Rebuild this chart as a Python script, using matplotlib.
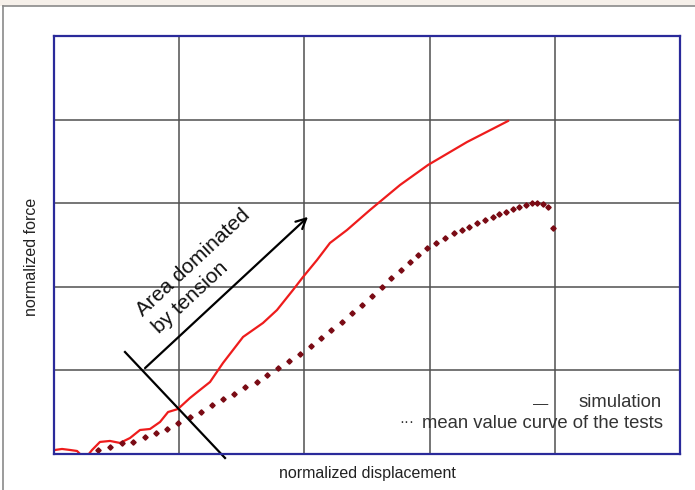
import matplotlib
matplotlib.use('Agg')
import matplotlib.pyplot as plt
from matplotlib.lines import Line2D
from matplotlib.patches import Rectangle

plt.rcParams['font.family'] = ['Liberation Sans', 'DejaVu Sans']

# simulation curve (normalized units, grid of 5 x 5)
sim_x = [0.008, 0.064, 0.128, 0.184, 0.224, 0.272, 0.304, 0.367, 0.447, 0.527,
         0.607, 0.687, 0.767, 0.847, 0.911, 0.990, 1.086, 1.166, 1.246, 1.350,
         1.510, 1.669, 1.781, 1.909, 1.989, 2.101, 2.204, 2.340, 2.524, 2.764,
         2.987, 3.299, 3.626]
sim_y = [0.048, 0.060, 0.048, 0.036, -0.024, -0.012, 0.048, 0.144, 0.156, 0.132,
         0.191, 0.287, 0.299, 0.383, 0.502, 0.538, 0.670, 0.766, 0.861, 1.089,
         1.400, 1.567, 1.722, 1.962, 2.117, 2.321, 2.524, 2.679, 2.919, 3.218,
         3.457, 3.732, 3.983]

# mean value curve of the tests
test_x = [0.351, 0.447, 0.543, 0.631, 0.727, 0.815, 0.903, 0.990, 1.086, 1.174,
          1.262, 1.350, 1.438, 1.526, 1.621, 1.701, 1.789, 1.877, 1.965, 2.053,
          2.133, 2.212, 2.300, 2.380, 2.460, 2.540, 2.620, 2.692, 2.772, 2.843,
          2.907, 2.979, 3.051, 3.123, 3.195, 3.259, 3.315, 3.379, 3.442, 3.506,
          3.554, 3.610, 3.666, 3.714, 3.770, 3.818, 3.858, 3.906, 3.946, 3.986]
test_y = [0.048, 0.084, 0.132, 0.144, 0.203, 0.251, 0.299, 0.371, 0.443, 0.502,
          0.586, 0.658, 0.718, 0.801, 0.861, 0.945, 1.029, 1.112, 1.196, 1.292,
          1.388, 1.483, 1.579, 1.687, 1.782, 1.890, 1.998, 2.105, 2.201, 2.297,
          2.380, 2.464, 2.524, 2.584, 2.644, 2.679, 2.715, 2.763, 2.799, 2.835,
          2.871, 2.895, 2.931, 2.955, 2.978, 3.002, 3.002, 2.990, 2.955, 2.703]

grid_ticks = [0, 1, 2, 3, 4, 5]

fig = plt.figure(figsize=(6.95, 4.9), dpi=100)
fig.patch.set_facecolor('white')

# slide frame: beige strip on top and thin grey border lines
fig.patches.append(Rectangle((0, 0.988), 1, 0.012, transform=fig.transFigure,
                             facecolor='#f6f0ea', edgecolor='none', zorder=0))
fig.lines.append(Line2D([0.005, 1.0], [0.988, 0.988], transform=fig.transFigure,
                        color='#8a8a8a', lw=1.2))
fig.lines.append(Line2D([0.005, 0.005], [0.0, 0.988], transform=fig.transFigure,
                        color='#8a8a8a', lw=1.2))

ax = fig.add_axes([0.0777, 0.0735, 0.9007, 0.853])
ax.set_xlim(0, 5)
ax.set_ylim(0, 5)
ax.set_xticks(grid_ticks)
ax.set_yticks(grid_ticks)
ax.tick_params(length=0, labelbottom=False, labelleft=False)
ax.grid(True, color='#505050', lw=1.1)
for s in ax.spines.values():
    s.set_color('#2a2a9a')
    s.set_linewidth(1.6)
    s.set_zorder(5)

ax.plot(sim_x, sim_y, color='#ee1c1c', lw=1.6, zorder=3)
ax.plot(test_x, test_y, ls='none', marker='D', ms=2.7, color='#7a0a14', zorder=3)

# tension annotation
ax.annotate('', xy=(2.045, 2.859), xytext=(0.711, 1.005),
            arrowprops=dict(arrowstyle='->', color='black', lw=1.6,
                            mutation_scale=18))
ax.plot([0.567, 1.366], [1.220, -0.048], color='black', lw=1.6, clip_on=False, zorder=4)
ax.text(0.86, 1.40, 'Area dominated\nby tension', rotation=43, ha='left', va='bottom',
        rotation_mode='anchor', multialignment='left', fontsize=15,
        color='#111111', linespacing=1.25)

# legend text
ax.text(0.778, 0.119, '\u2014', transform=ax.transAxes, ha='center', va='center',
        fontsize=11, color='#333333')
ax.text(0.970, 0.122, 'simulation', transform=ax.transAxes, ha='right',
        va='center', fontsize=13.3, color='#333333')
ax.text(0.564, 0.076, '\u00b7\u00b7\u00b7', transform=ax.transAxes, ha='center',
        va='center', fontsize=11, color='#333333')
ax.text(0.973, 0.072, 'mean value curve of the tests', transform=ax.transAxes,
        ha='right', va='center', fontsize=13.3, color='#333333')

fig.text(0.528, 0.033, 'normalized displacement', ha='center', va='center',
         fontsize=11.5, color='#222222')
fig.text(0.045, 0.476, 'normalized force', ha='center', va='center', rotation=90,
         fontsize=11.5, color='#222222')

fig.savefig('out.png', dpi=100)
